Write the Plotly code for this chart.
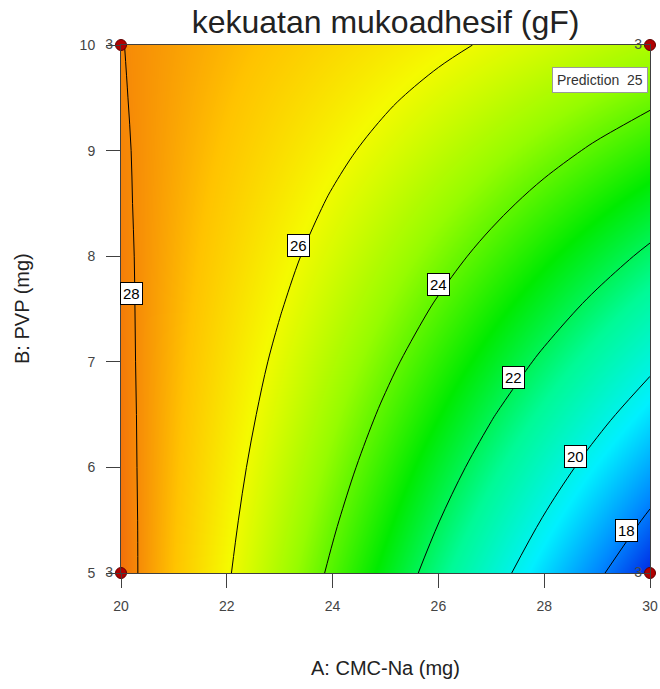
import numpy as np
import plotly.graph_objects as go

# Factor levels (grid) for the response surface
cmc_na = [20, 21, 22, 23, 24, 25, 26, 27, 28, 29, 30]          # A: CMC-Na (mg)
pvp = [5.0, 5.5, 6.0, 6.5, 7.0, 7.5, 8.0, 8.5, 9.0, 9.5, 10.0]  # B: PVP (mg)

# Predicted mucoadhesive strength (gF), one row per PVP level
strength = [
    [28.36, 27.23, 26.10, 24.96, 23.83, 22.70, 21.57, 20.44, 19.30, 18.17, 17.04],
    [28.33, 27.28, 26.23, 25.18, 24.13, 23.08, 22.03, 20.98, 19.93, 18.88, 17.83],
    [28.29, 27.33, 26.36, 25.39, 24.43, 23.46, 22.49, 21.53, 20.56, 19.59, 18.63],
    [28.26, 27.37, 26.49, 25.61, 24.72, 23.84, 22.96, 22.07, 21.19, 20.31, 19.42],
    [28.22, 27.42, 26.62, 25.82, 25.02, 24.22, 23.42, 22.62, 21.82, 21.02, 20.22],
    [28.19, 27.47, 26.75, 26.04, 25.32, 24.60, 23.88, 23.16, 22.45, 21.73, 21.01],
    [28.16, 27.52, 26.89, 26.25, 25.62, 24.98, 24.35, 23.71, 23.07, 22.44, 21.80],
    [28.12, 27.57, 27.02, 26.47, 25.91, 25.36, 24.81, 24.26, 23.70, 23.15, 22.60],
    [28.09, 27.62, 27.15, 26.68, 26.21, 25.74, 25.27, 24.80, 24.33, 23.86, 23.39],
    [28.05, 27.67, 27.28, 26.89, 26.51, 26.12, 25.73, 25.35, 24.96, 24.57, 24.19],
    [28.02, 27.72, 27.41, 27.11, 26.80, 26.50, 26.20, 25.89, 25.59, 25.28, 24.98],
]

# Design points at the corners and their replicate counts
design_a = [20, 20, 30, 30]
design_b = [5, 10, 5, 10]
replicates = [3, 3, 3, 3]

# Contour levels that carry a label, and the PVP level at which each label sits
label_levels = [28, 26, 24, 22, 20, 18]
label_pvp = [7.65, 8.1, 7.73, 6.85, 6.1, 5.4]

# Horizontal nudge (px) of each label box relative to its contour line
label_nudge = [-3, -6, -7, -7, -7, -7]

z = np.array(strength)
xa = np.array(cmc_na, dtype=float)
yb = np.array(pvp, dtype=float)

colorscale = [
    [0.00, "rgb(0,40,228)"],
    [0.10, "rgb(0,135,255)"],
    [0.23, "rgb(0,240,255)"],
    [0.38, "rgb(0,250,150)"],
    [0.52, "rgb(0,235,0)"],
    [0.67, "rgb(150,252,0)"],
    [0.80, "rgb(245,250,0)"],
    [0.90, "rgb(255,195,0)"],
    [1.00, "rgb(242,112,10)"],
]

FONT = "Arial, Liberation Sans, sans-serif"

fig = go.Figure()
fig.add_trace(go.Contour(
    x=cmc_na, y=pvp, z=strength,
    colorscale=colorscale,
    zmin=float(z.min()), zmax=float(z.max()),
    contours=dict(start=18, end=28, size=2, coloring="heatmap", showlabels=False),
    line=dict(color="black", width=1, smoothing=1),
    showscale=False,
    hoverinfo="skip",
))

fig.add_trace(go.Scatter(
    x=design_a, y=design_b,
    mode="markers+text",
    text=[str(r) for r in replicates],
    textposition="middle left",
    textfont=dict(family=FONT, size=14, color="#4a4a4a"),
    marker=dict(size=11, color="#b00000", line=dict(color="#600000", width=1)),
    cliponaxis=False,
    showlegend=False,
    hoverinfo="skip",
))


def row_at(b):
    """Strength along CMC-Na at an arbitrary PVP level (linear between grid rows)."""
    return np.array([np.interp(b, yb, z[:, j]) for j in range(len(xa))])


annotations = []
for lev, b, dx in zip(label_levels, label_pvp, label_nudge):
    row = row_at(b)
    a = float(np.interp(lev, row[::-1], xa[::-1]))
    annotations.append(dict(
        x=a, y=b, xref="x", yref="y", xshift=dx, text=str(lev), showarrow=False,
        font=dict(family=FONT, size=15, color="black"),
        bgcolor="white", bordercolor="black", borderwidth=1, borderpad=2,
    ))

# Prediction flag at the top-right design point
annotations.append(dict(
    x=1, y=1, xref="paper", yref="paper", xanchor="right", yanchor="top",
    xshift=-2, yshift=-22,
    text=f"Prediction  {z[-1, -1]:.0f}", showarrow=False,
    font=dict(family=FONT, size=14, color="#333333"),
    bgcolor="white", bordercolor="#9a9a9a", borderwidth=1, borderpad=4,
))

# Axis titles
annotations.append(dict(
    x=0.5, y=0, xref="paper", yref="paper", xanchor="center", yanchor="middle",
    yshift=-95, text="A: CMC-Na (mg)", showarrow=False,
    font=dict(family=FONT, size=20, color="#222222"),
))
annotations.append(dict(
    x=0, y=0.5, xref="paper", yref="paper", xanchor="center", yanchor="middle",
    xshift=-99, text="B: PVP (mg)", showarrow=False, textangle=-90,
    font=dict(family=FONT, size=20, color="#222222"),
))

axis_common = dict(
    showgrid=False, zeroline=False, showline=True, mirror=True,
    linecolor="#404040", linewidth=1, automargin=False,
    ticks="outside", ticklen=14, tickcolor="#404040", tickwidth=1,
    tickfont=dict(family=FONT, size=14, color="#444444"),
)

fig.update_layout(
    width=660, height=689,
    margin=dict(l=121, r=10, t=45, b=116),
    paper_bgcolor="white", plot_bgcolor="white",
    title=dict(
        text="kekuatan mukoadhesif (gF)", x=385.5 / 660, xanchor="center",
        y=1 - 22 / 689, yanchor="middle",
        font=dict(family=FONT, size=32, color="#222222"),
        automargin=False,
    ),
    xaxis=dict(range=[20, 30], dtick=2, tick0=20, ticklabelstandoff=6, **axis_common),
    yaxis=dict(range=[5, 10], dtick=1, tick0=5, ticklabelstandoff=8, **axis_common),
    annotations=annotations,
    showlegend=False,
)

fig.write_html("out.html")
